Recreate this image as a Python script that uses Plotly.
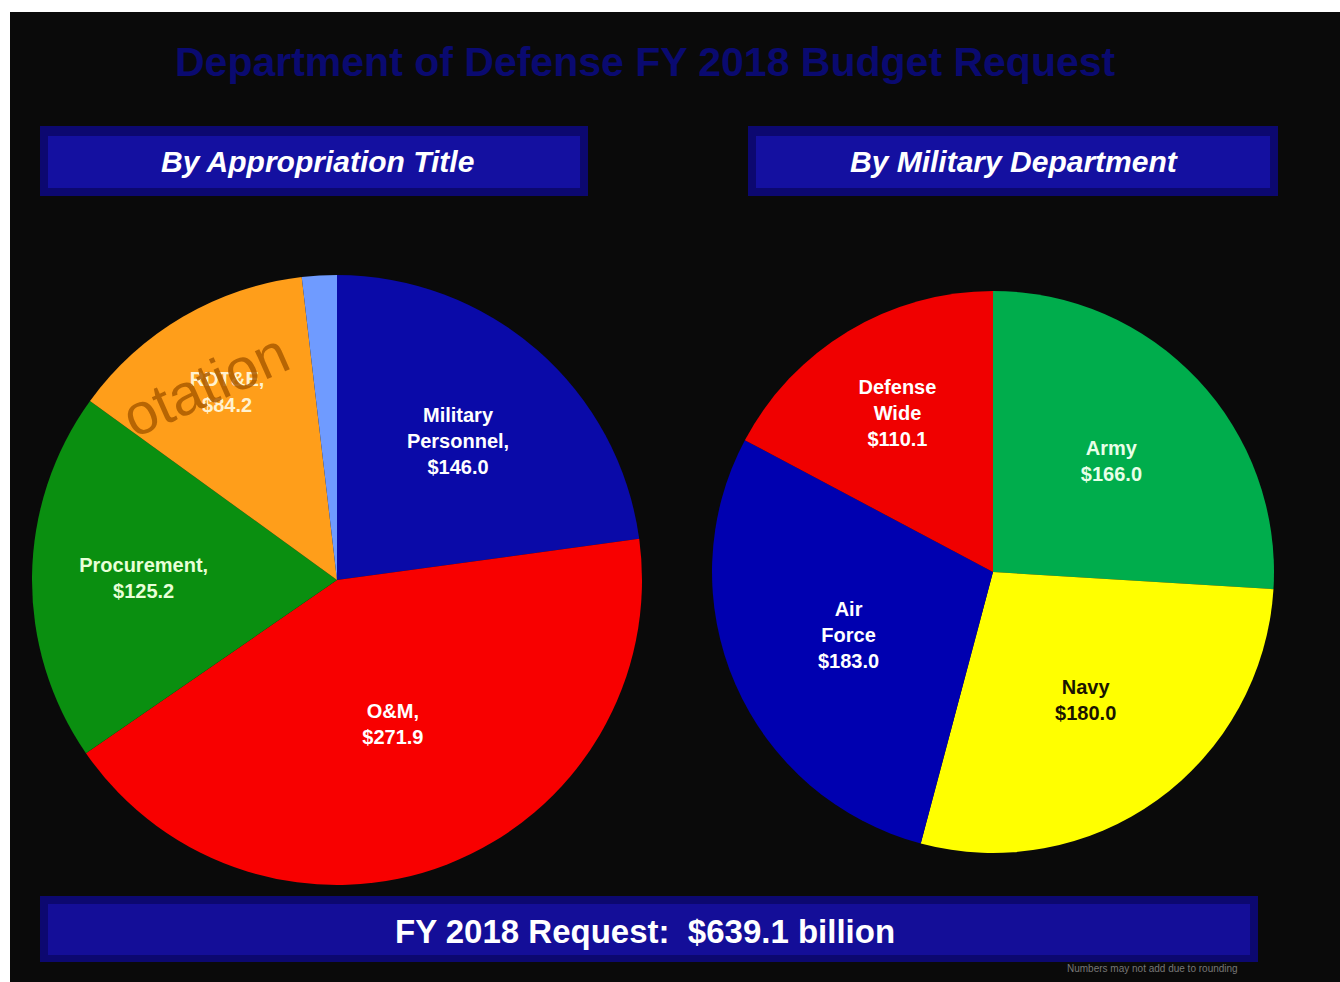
import plotly.graph_objects as go

W, H = 1340, 982

# Data
approp_labels = ["Military Personnel", "O&M", "Procurement", "RDT&E", "MilCon/Family Housing"]
approp_values = [146.0, 271.9, 125.2, 84.2, 11.8]
approp_text = ["<b>Military<br>Personnel,<br>$146.0</b>", "<b>O&M,<br>$271.9</b>",
               "<b>Procurement,<br>$125.2</b>", "<b>RDT&E,<br>$84.2</b>", ""]
approp_colors = ["#0a0aa8", "#f80000", "#0a8f10", "#ff9e1a", "#6f9bff"]
approp_textcolors = ["#ffffff", "#ffffff", "#e8ffd8", "#fff2d0", "#ffffff"]

dept_labels = ["Army", "Navy", "Air Force", "Defense Wide"]
dept_values = [166.0, 180.0, 183.0, 110.1]
dept_text = ["<b>Army<br>$166.0</b>", "<b>Navy<br>$180.0</b>",
             "<b>Air<br>Force<br>$183.0</b>", "<b>Defense<br>Wide<br>$110.1</b>"]
dept_colors = ["#00ad4c", "#ffff00", "#0000b0", "#f00000"]
dept_textcolors = ["#e8ffe8", "#1a1400", "#ffffff", "#ffffff"]

FONT = "Liberation Sans, Arial, sans-serif"

fig = go.Figure()


def px_x(x):
    return x / W


def px_y(y):
    return 1 - y / H


fig.add_trace(go.Pie(
    labels=approp_labels, values=approp_values, text=approp_text,
    textinfo="text", texttemplate="%{text}", textposition="inside",
    insidetextorientation="horizontal",
    textfont=dict(family=FONT, size=20, color=approp_textcolors),
    marker=dict(colors=approp_colors, line=dict(width=0)),
    sort=False, direction="clockwise", rotation=0,
    domain=dict(x=[px_x(32), px_x(642)], y=[px_y(885), px_y(275)]),
    showlegend=False, hoverinfo="label+value",
))

fig.add_trace(go.Pie(
    labels=dept_labels, values=dept_values, text=dept_text,
    textinfo="text", texttemplate="%{text}", textposition="inside",
    insidetextorientation="horizontal",
    textfont=dict(family=FONT, size=20, color=dept_textcolors),
    marker=dict(colors=dept_colors, line=dict(width=0)),
    sort=False, direction="clockwise", rotation=0,
    domain=dict(x=[px_x(712), px_x(1274)], y=[px_y(853), px_y(291)]),
    showlegend=False, hoverinfo="label+value",
))

shapes = [
    # black slide area
    dict(type="rect", xref="paper", yref="paper", x0=px_x(10), x1=1.01, y0=-0.01, y1=px_y(12),
         fillcolor="#0a0a0a", line=dict(width=0), layer="below"),
    # header bars
    dict(type="rect", xref="paper", yref="paper", x0=px_x(40), x1=px_x(588), y0=px_y(196), y1=px_y(126),
         fillcolor="#0c0870", line=dict(width=0), layer="below"),
    dict(type="rect", xref="paper", yref="paper", x0=px_x(48), x1=px_x(580), y0=px_y(188), y1=px_y(136),
         fillcolor="#1410a0", line=dict(width=0), layer="below"),
    dict(type="rect", xref="paper", yref="paper", x0=px_x(748), x1=px_x(1278), y0=px_y(196), y1=px_y(126),
         fillcolor="#0c0870", line=dict(width=0), layer="below"),
    dict(type="rect", xref="paper", yref="paper", x0=px_x(756), x1=px_x(1270), y0=px_y(188), y1=px_y(136),
         fillcolor="#1410a0", line=dict(width=0), layer="below"),
    # bottom bar
    dict(type="rect", xref="paper", yref="paper", x0=px_x(40), x1=px_x(1258), y0=px_y(962), y1=px_y(896),
         fillcolor="#0c0870", line=dict(width=0), layer="below"),
    dict(type="rect", xref="paper", yref="paper", x0=px_x(48), x1=px_x(1250), y0=px_y(955), y1=px_y(904),
         fillcolor="#140e98", line=dict(width=0), layer="below"),
]


def ann(text, x, y, size, color, angle=0, xanchor="center"):
    return dict(text=text, x=px_x(x), y=px_y(y), xref="paper", yref="paper",
                showarrow=False, xanchor=xanchor, yanchor="middle", textangle=angle,
                font=dict(family=FONT, size=size, color=color))


annotations = [
    ann("<b>Department of Defense FY 2018 Budget Request</b>", 645, 62, 41, "#0a0a70"),
    ann("<b><i>By Appropriation Title</i></b>", 317, 161, 30, "#ffffff"),
    ann("<b><i>By Military Department</i></b>", 1014, 161, 30, "#ffffff"),
    ann("<b>FY 2018 Request:  $639.1 billion</b>", 645, 931, 33, "#ffffff"),
    ann("Numbers may not add due to rounding", 1240, 968, 10, "#777777", xanchor="right"),
    ann("otation", 205, 384, 58, "rgba(170,90,0,0.85)", angle=-24),
]

fig.update_layout(
    width=W, height=H,
    margin=dict(l=0, r=0, t=0, b=0),
    paper_bgcolor="#ffffff",
    plot_bgcolor="#0a0a0a",
    shapes=shapes,
    annotations=annotations,
    font=dict(family=FONT),
)

fig.write_html(
    "out.html",
    config={"displayModeBar": False},
    post_script="document.body.style.margin='0';document.body.style.overflow='hidden';",
)
